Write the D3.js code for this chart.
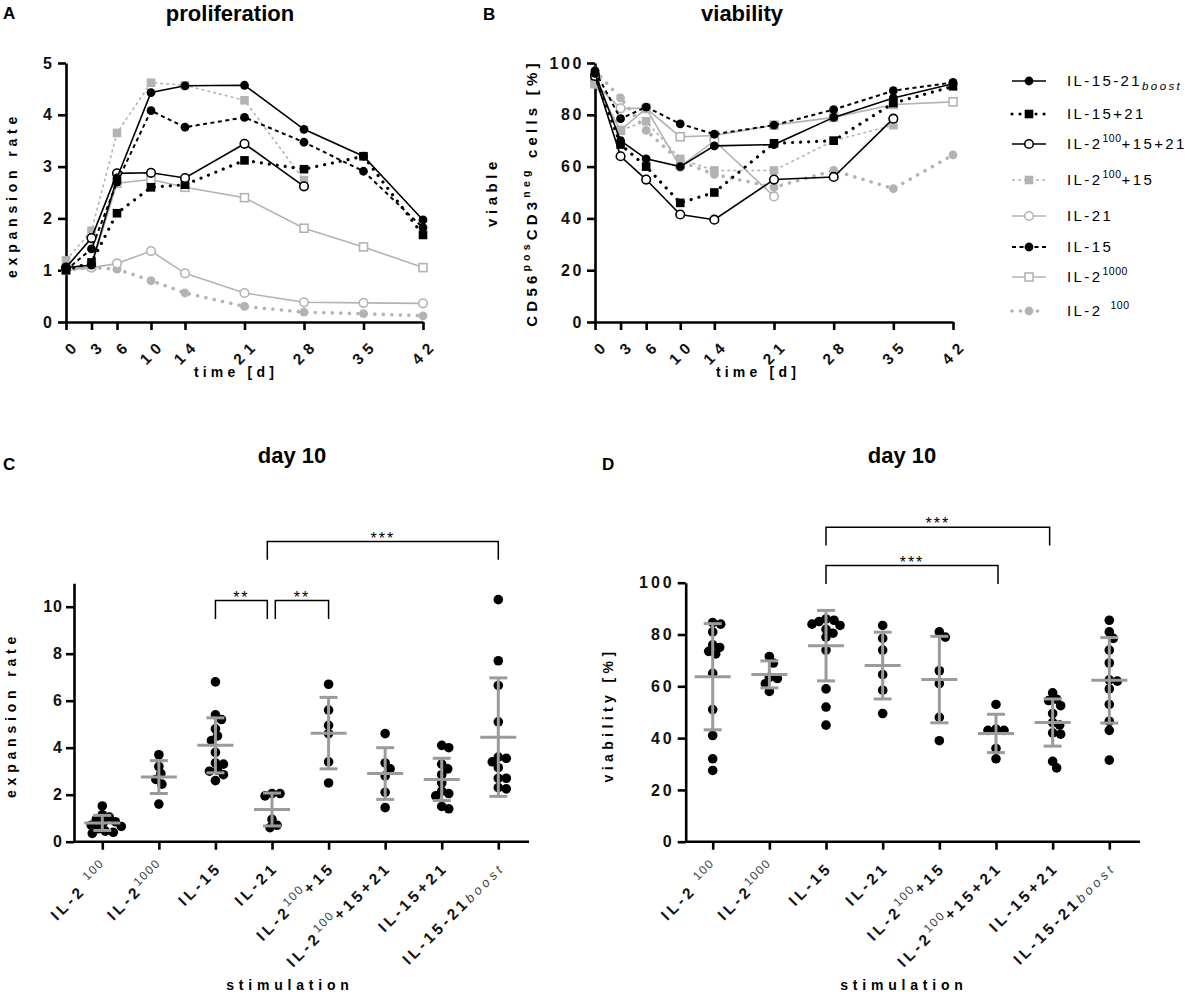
<!DOCTYPE html>
<html>
<head>
<meta charset="utf-8">
<script src="https://d3js.org/d3.v7.min.js"></script>
<style>
  html,body{margin:0;padding:0;background:#fff;}
  svg{display:block;}
</style>
</head>
<body>
<svg id="chart" width="1192" height="1000"></svg>
<script>
// ================= DATA =================
const days = [0, 3, 6, 10, 14, 21, 28, 35, 42];

// Panel A: expansion rate over time
const profBoost   = [1.05, 1.10, 2.78, 4.43, 4.56, 4.57, 3.72, 3.20, 1.97];
const prof15p21   = [1.00, 1.15, 2.10, 2.60, 2.65, 3.12, 2.95, 3.20, 1.68];
const prof2p15p21 = [1.05, 1.62, 2.87, 2.88, 2.78, 3.44, 2.62, null, null];
const prof2p15    = [1.19, 1.76, 3.65, 4.62, 4.57, 4.28, 2.74, null, null];
const prof21      = [1.00, 1.05, 1.13, 1.37, 0.94, 0.56, 0.38, 0.37, 0.36];
const prof15      = [1.00, 1.41, 2.70, 4.08, 3.76, 3.95, 3.47, 2.91, 1.82];
const prof2hi     = [1.00, 1.08, 2.68, 2.75, 2.60, 2.40, 1.81, 1.45, 1.05];
const prof2lo     = [1.00, 1.05, 1.02, 0.80, 0.56, 0.30, 0.19, 0.16, 0.12];

// Panel B: viable CD56pos CD3neg cells [%] over time
const viaBoost   = [96, 70, 63, 60, 68, 68.5, 79, 86.5, 92];
const via15p21   = [95, 68.5, 60, 46, 50, 69, 70, 84.5, 91];
const via2p15p21 = [95, 64, 55, 41.5, 39.5, 55, 56, 78.5, null];
const via2p15    = [92, 74, 77.5, 63, 58.5, 58.5, 70, 76, null];
const via21      = [92, 82.5, 82.5, 60, 70, 48.5, null, null, null];
const via15      = [97, 78.5, 83, 76.5, 72.5, 76, 82, 89.3, 92.5];
const via2hi     = [92, 74, 82.5, 71.5, 72, 76, 79, 84, 85];
const via2lo     = [97, 86.5, 74, 62, 57, 52, 58.5, 51.5, 64.5];

// Panels C/D: day 10 per stimulation
const stimulations = ["IL-2 100", "IL-2 1000", "IL-15", "IL-21", "IL-2 100+15", "IL-2 100+15+21", "IL-15+21", "IL-15-21 boost"];
const stimLabelParts = [
  [["IL-2", ""], ["100", "supgap"]],
  [["IL-2", ""], ["1000", "sup"]],
  [["IL-15", ""]],
  [["IL-21", ""]],
  [["IL-2", ""], ["100", "sup"], ["+15", ""]],
  [["IL-2", ""], ["100", "sup"], ["+15+21", ""]],
  [["IL-15+21", ""]],
  [["IL-15-21", ""], ["boost", "it"]]
];
const expansionDay10 = [
  [1.52, 1.15, 1.05, 0.95, 0.85, 0.8, 0.7, 0.65, 0.55, 0.45, 0.4, 0.35],
  [3.7, 3.2, 2.9, 2.65, 2.45, 1.6],
  [6.8, 5.4, 5.2, 4.8, 4.5, 4.3, 3.8, 3.35, 3.3, 3.05, 3.0, 2.85, 2.6],
  [2.05, 2.05, 1.95, 0.95, 0.7, 0.6],
  [6.7, 5.6, 4.95, 4.6, 3.4, 2.5],
  [4.6, 3.35, 3.1, 2.8, 2.1, 1.45],
  [4.1, 4.0, 3.3, 3.1, 2.85, 2.5, 2.15, 2.05, 1.95, 1.5, 1.4],
  [10.3, 7.7, 6.65, 5.1, 3.6, 3.55, 3.4, 3.15, 2.7, 2.7, 2.3, 2.25]
];
const expansionMean = [0.8, 2.75, 4.1, 1.37, 4.62, 2.9, 2.65, 4.45];
const expansionSD   = [0.32, 0.7, 1.17, 0.7, 1.52, 1.1, 0.9, 2.52];

const viabilityDay10 = [
  [84.6, 84, 81, 76, 75, 73.5, 72.5, 65, 51, 41, 32, 27.5],
  [71.5, 69, 63.5, 63, 61, 58],
  [86, 85.5, 85, 84, 83.5, 82, 80.5, 79, 74, 59, 52, 45],
  [83.5, 78.5, 74, 64.5, 58.5, 49.5],
  [81, 79, 66, 61, 48, 39],
  [53, 43.5, 43, 43, 36, 32],
  [57.5, 55, 54.5, 52.5, 49.5, 46, 45, 42, 41.5, 31, 28.5],
  [85.5, 81, 78.5, 74, 69, 62.5, 62, 59, 53, 46.5, 43, 31.5]
];
const viabilityMean = [63.7, 64.6, 75.7, 68, 62.6, 41.8, 46, 62.3];
const viabilitySD   = [20.5, 5.2, 13.6, 12.9, 16.7, 7.4, 9.1, 16.5];

// significance brackets (category indices, heights in data units)
const sigExpansion = [
  {a: 2, b: 3, top: 10.26, drop: 9.48, label: "**", da: 0, db: -4.7},
  {a: 3, b: 4, top: 10.26, drop: 9.48, label: "**", da: 3.3, db: 0},
  {a: 3, b: 7, top: 12.77, drop: 12.0, label: "***", da: -4.7, db: 0}
];
const sigViability = [
  {a: 2, b: 6, top: 121.4, drop: 114.4, label: "***", da: 0, db: -3},
  {a: 2, b: 5, top: 106.6, drop: 99.5, label: "***", da: 0, db: 2}
];

// ================= DRAWING =================
const svg = d3.select("#chart");
const FONT = "'Liberation Sans', Arial, Helvetica, sans-serif";
svg.attr("font-family", FONT);
const GRAY = "#b3b3b3";
const BARC = "#9b9b9b";

const seriesInfo = [
  {prof: profBoost,   via: viaBoost,   color: "#000", w: 1.6, dash: null,      cap: "butt",  mk: "circle", fill: true,
   label: [["IL-15-21", ""], ["boost", "sub"]]},
  {prof: prof15p21,   via: via15p21,   color: "#000", w: 3.2, dash: "0.01,8",  cap: "round", mk: "square", fill: true,
   label: [["IL-15+21", ""]]},
  {prof: prof2p15p21, via: via2p15p21, color: "#000", w: 1.6, dash: null,      cap: "butt",  mk: "circle", fill: false,
   label: [["IL-2", ""], ["100", "sup"], ["+15+21", ""]]},
  {prof: prof2p15,    via: via2p15,    color: GRAY,   w: 1.6, dash: "3,3",     cap: "butt",  mk: "square", fill: true,
   label: [["IL-2", ""], ["100", "sup"], ["+15", ""]]},
  {prof: prof21,      via: via21,      color: GRAY,   w: 1.6, dash: null,      cap: "butt",  mk: "circle", fill: false,
   label: [["IL-21", ""]]},
  {prof: prof15,      via: via15,      color: "#000", w: 2,   dash: "4,3.5",   cap: "butt",  mk: "circle", fill: true,
   label: [["IL-15", ""]]},
  {prof: prof2hi,     via: via2hi,     color: GRAY,   w: 1.6, dash: null,      cap: "butt",  mk: "square", fill: false,
   label: [["IL-2", ""], ["1000", "sup"]]},
  {prof: prof2lo,     via: via2lo,     color: GRAY,   w: 3.6, dash: "0.01,8.5", cap: "round", mk: "circle", fill: true,
   label: [["IL-2", ""], ["100", "supgap"]]}
];
const drawOrder = [7, 6, 4, 3, 5, 1, 2, 0];

function styleAxis(g, size, ls) {
  g.attr("font-family", null).attr("font-size", null);
  g.select(".domain").attr("stroke", "#000").attr("stroke-width", 2.6);
  g.selectAll(".tick line").attr("stroke", "#000").attr("stroke-width", 2.6);
  g.selectAll(".tick text").attr("font-family", FONT).attr("font-weight", "bold")
    .attr("font-size", size || 15).attr("letter-spacing", ls == null ? 3 : ls).attr("fill", "#111");
}
function rotateTicks(g, tx, ty) {
  g.selectAll(".tick text").attr("x", 0).attr("y", 0).attr("dy", "0.35em")
    .attr("text-anchor", "end").attr("transform", `translate(${tx},${ty}) rotate(-45)`);
}
function fillLabel(t, parts, o) {
  let shift = 0;
  parts.forEach(([str, kind]) => {
    const ts = t.append("tspan").text(str);
    let target = 0;
    if (kind === "sup" || kind === "supgap") {
      target = -o.size * 0.45;
      ts.attr("font-size", o.supSize).attr("font-weight", o.supWeight).attr("fill", o.supFill);
      if (o.supLs != null) ts.attr("letter-spacing", o.supLs);
      if (kind === "supgap") ts.attr("dx", o.gap);
    } else if (kind === "sub") {
      target = o.subShift;
      ts.attr("font-size", o.subSize).attr("font-style", "italic").attr("font-weight", "normal").attr("fill", o.supFill);
    } else if (kind === "it") {
      ts.attr("font-size", o.subSize).attr("font-style", "italic").attr("font-weight", "normal").attr("fill", o.supFill);
    }
    if (target !== shift) { ts.attr("dy", target - shift); shift = target; }
  });
}
function marker(g, s, cx, cy) {
  if (s.mk === "circle") {
    g.append("circle").attr("cx", cx).attr("cy", cy).attr("r", s.fill ? 4.4 : 4.3)
      .attr("fill", s.fill ? s.color : "#fff").attr("stroke", s.color).attr("stroke-width", s.fill ? 0 : 1.6);
  } else {
    const h = s.fill ? 4.3 : 4.0;
    g.append("rect").attr("x", cx - h).attr("y", cy - h).attr("width", 2 * h).attr("height", 2 * h)
      .attr("fill", s.fill ? s.color : "#fff").attr("stroke", s.color).attr("stroke-width", s.fill ? 0 : 1.6);
  }
}
function text(x, y, str, o) {
  const t = svg.append("text").attr("x", x).attr("y", y).text(str)
    .attr("font-size", o.size).attr("font-weight", o.weight || "bold")
    .attr("text-anchor", o.anchor || "start").attr("fill", "#000");
  if (o.ls) t.attr("letter-spacing", o.ls);
  if (o.rotate) t.attr("transform", `rotate(${o.rotate},${x},${y})`);
  return t;
}

// ---------- line panels (A, B) ----------
function linePanel(key, x, y, yTicks, tickLs) {
  const g = svg.append("g");
  g.append("g").attr("transform", `translate(0,${y.range()[0]})`)
    .call(d3.axisBottom(x).tickValues(days).tickFormat(d3.format("d")).tickSize(8).tickSizeOuter(0))
    .call(a => styleAxis(a, 15.5, 5.5)).call(a => rotateTicks(a, 11, 20));
  g.append("g").attr("transform", `translate(${x.range()[0]},0)`)
    .call(d3.axisLeft(y).tickValues(yTicks).tickFormat(d3.format("d")).tickSize(8).tickSizeOuter(0))
    .call(a => styleAxis(a, 16, tickLs));
  const line = d3.line().x(p => x(p.d)).y(p => y(p.v));
  drawOrder.forEach(i => {
    const s = seriesInfo[i];
    const pts = days.map((d, j) => ({d, v: s[key][j]})).filter(p => p.v != null);
    const gs = g.append("g");
    gs.append("path").datum(pts).attr("d", line).attr("fill", "none")
      .attr("stroke", s.color).attr("stroke-width", s.w)
      .attr("stroke-dasharray", s.dash).attr("stroke-linecap", s.cap);
    pts.forEach(p => marker(gs, s, x(p.d), y(p.v)));
  });
}

const xA = d3.scaleLinear().domain([0, 42]).range([66, 423]);
const yA = d3.scaleLinear().domain([0, 5]).range([322, 63]);
linePanel("prof", xA, yA, [0, 1, 2, 3, 4, 5], 3);

const xB = d3.scaleLinear().domain([0, 42]).range([595, 953]);
const yB = d3.scaleLinear().domain([0, 100]).range([322, 63]);
linePanel("via", xB, yB, [0, 20, 40, 60, 80, 100], 2.6);

// titles and axis labels for A, B
text(3, 19, "A", {size: 17});
text(230, 21, "proliferation", {size: 22, anchor: "middle"});
text(17, 195, "expansion rate", {size: 14, anchor: "middle", ls: 4.8, rotate: -90});
text(236, 377, "time [d]", {size: 14, anchor: "middle", ls: 4.2});

text(483, 20, "B", {size: 17});
text(742, 21, "viability", {size: 22, anchor: "middle"});
text(497, 192, "viable", {size: 15, anchor: "middle", ls: 4.6, rotate: -90});
{
  const t = text(537, 193, "", {size: 15, anchor: "middle", ls: 4.2, rotate: -90});
  fillLabel(t, [["CD56", ""], ["pos", "sup"], ["CD3", ""], ["neg", "sup"], [" cells [%]", ""]],
    {size: 15, supSize: 10.5, supWeight: "bold", supFill: "#000"});
}
text(758, 377, "time [d]", {size: 14, anchor: "middle", ls: 4.2});

// legend
const legendRowY = [81, 114, 144, 180, 216, 247, 277, 311];
seriesInfo.forEach((s, i) => {
  const y = legendRowY[i];
  const g = svg.append("g");
  g.append("line").attr("x1", 1012).attr("x2", 1046).attr("y1", y).attr("y2", y)
    .attr("stroke", s.color).attr("stroke-width", s.w).attr("stroke-dasharray", s.dash).attr("stroke-linecap", s.cap);
  marker(g, s, 1029, y);
  const t = g.append("text").attr("x", 1067).attr("y", y + 5).attr("font-size", 15)
    .attr("letter-spacing", 2.4).attr("fill", "#000");
  fillLabel(t, s.label, {size: 15, supSize: 10.5, supWeight: "normal", supFill: "#000",
    subSize: 11.5, subShift: 4, gap: 8, supLs: 0.5});
});

// ---------- scatter panels (C, D) ----------
function swarm(values, y, cx, minGap) {
  const pts = values.map(v => ({v, y: y(v)})).sort((a, b) => a.y - b.y);
  const placed = [];
  pts.forEach(p => {
    for (let k = 0; k < 400; k++) {
      const off = (k % 2 === 1 ? 1 : -1) * Math.ceil(k / 2);
      const ok = placed.every(q => Math.hypot(q.x - (cx + off), q.y - p.y) >= minGap);
      if (ok) { p.x = cx + off; break; }
    }
    placed.push(p);
  });
  return placed;
}

function scatterPanel(o) {
  const g = svg.append("g");
  const x = d3.scalePoint().domain(stimulations).range(o.xRange);
  const y = o.y;
  const axisY = y(0);
  const xa = g.append("g").attr("transform", `translate(0,${axisY})`)
    .call(d3.axisBottom(x).tickSize(8).tickSizeOuter(0).tickFormat(""))
    .call(a => styleAxis(a, 14, 3));
  xa.select(".domain").attr("d", `M${o.axisX},0H${o.axisEnd}`);
  xa.selectAll(".tick").each(function (d, i) {
    const t = d3.select(this).append("text").attr("x", 0).attr("y", 0).attr("dy", "0.35em")
      .attr("text-anchor", "end").attr("transform", "translate(3,23) rotate(-45)")
      .attr("font-family", FONT).attr("font-weight", "bold").attr("font-size", 15.5)
      .attr("letter-spacing", 3.6).attr("fill", "#111");
    fillLabel(t, stimLabelParts[i], {size: 15.5, supSize: 12, supWeight: "normal", supFill: "#444",
      subSize: 13, subShift: 0, gap: 8, supLs: 1.5});
  });
  g.append("g").attr("transform", `translate(${o.axisX},0)`)
    .call(d3.axisLeft(y).tickValues(o.yTicks).tickFormat(d3.format("d")).tickSize(8).tickSizeOuter(0))
    .call(a => styleAxis(a, 16, o.tickLs));

  stimulations.forEach((c, i) => {
    const cx = x(c);
    swarm(o.points[i], y, cx, 7.2).forEach(p => {
      g.append("circle").attr("cx", p.x).attr("cy", p.y).attr("r", 4.8).attr("fill", "#000");
    });
    const m = o.mean[i], s = o.sd[i];
    g.append("line").attr("x1", cx).attr("x2", cx).attr("y1", y(m - s)).attr("y2", y(m + s))
      .attr("stroke", BARC).attr("stroke-width", 3);
    [m - s, m + s].forEach(v => g.append("line").attr("x1", cx - 9).attr("x2", cx + 9)
      .attr("y1", y(v)).attr("y2", y(v)).attr("stroke", BARC).attr("stroke-width", 3));
    g.append("line").attr("x1", cx - 18).attr("x2", cx + 18).attr("y1", y(m)).attr("y2", y(m))
      .attr("stroke", BARC).attr("stroke-width", 3);
  });

  o.sig.forEach(b => {
    const xa1 = x(stimulations[b.a]) + b.da, xb1 = x(stimulations[b.b]) + b.db;
    const yt = y(b.top), yd = y(b.drop);
    g.append("path").attr("d", `M${xa1},${yd}V${yt}H${xb1}V${yd}`).attr("fill", "none")
      .attr("stroke", "#000").attr("stroke-width", 1.5);
    g.append("text").attr("x", (xa1 + xb1) / 2).attr("y", yt + 2).attr("text-anchor", "middle")
      .attr("font-size", 16).attr("letter-spacing", 2).attr("fill", "#000").text(b.label);
  });
}

scatterPanel({
  xRange: [102.3, 498.3], axisX: 74, axisEnd: 529,
  y: d3.scaleLinear().domain([0, 11]).range([841.7, 583.2]),
  yTicks: [0, 2, 4, 6, 8, 10], tickLs: 1,
  points: expansionDay10, mean: expansionMean, sd: expansionSD, sig: sigExpansion
});
scatterPanel({
  xRange: [712.7, 1109.3], axisX: 685.7, axisEnd: 1140,
  y: d3.scaleLinear().domain([0, 100]).range([841.7, 582.7]),
  yTicks: [0, 20, 40, 60, 80, 100], tickLs: 3,
  points: viabilityDay10, mean: viabilityMean, sd: viabilitySD, sig: sigViability
});

text(3, 470, "C", {size: 17});
text(292, 463, "day 10", {size: 22, anchor: "middle"});
text(16, 715, "expansion rate", {size: 14, anchor: "middle", ls: 4.8, rotate: -90});
text(290, 990, "stimulation", {size: 14, anchor: "middle", ls: 4.8});

text(602, 470, "D", {size: 17});
text(902, 463, "day 10", {size: 22, anchor: "middle"});
text(613, 715, "viability [%]", {size: 14, anchor: "middle", ls: 4.4, rotate: -90});
text(904, 990, "stimulation", {size: 14, anchor: "middle", ls: 4.8});
</script>
</body>
</html>
